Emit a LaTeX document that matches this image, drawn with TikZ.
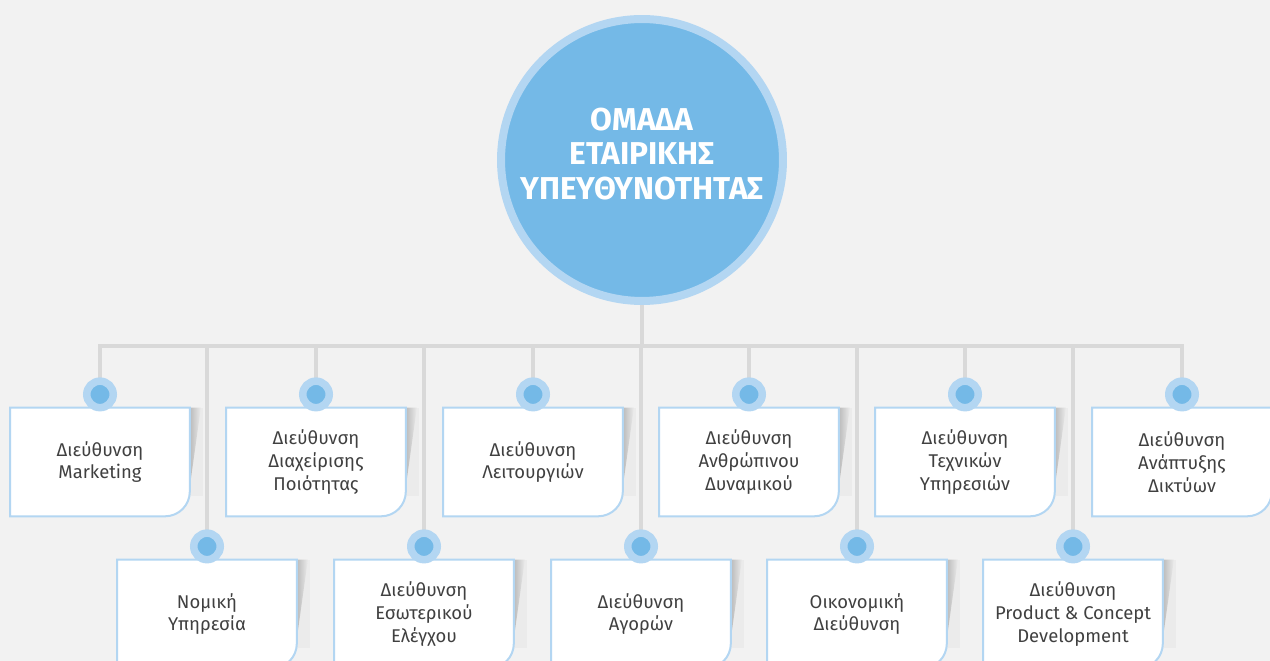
\documentclass[tikz,border=0pt]{standalone}
\usepackage{fontspec}
\setmainfont{Fira Sans}
\usepackage{tikz}
\usetikzlibrary{calc,positioning,backgrounds}
\usepackage{xcolor}
\definecolor{teamblue}{HTML}{74B9E7}
\definecolor{ringblue}{HTML}{B3D6F2}
\definecolor{linkgray}{HTML}{D9D9D9}
\definecolor{pagegray}{HTML}{F2F2F2}
\definecolor{labelgray}{HTML}{404040}
\tikzset{
  team/.style={circle, minimum size=5.64cm, inner sep=0pt, line width=0.16cm, fill=teamblue, draw=ringblue},
  teamtitle/.style={inner sep=0pt, text=white, align=center, font=\bfseries\fontsize{18}{19.5}\selectfont},
  unitbox/.style={rectangle, minimum width=3.58cm, minimum height=2.16cm, inner sep=0pt, align=center, text=labelgray, font=\fontsize{10.5}{13}\selectfont},
  unitdot/.style={circle, minimum size=0.53cm, inner sep=0pt, outer sep=0pt, line width=0.15cm, fill=teamblue, draw=ringblue},
  linkline/.style={draw=linkgray, line width=0.08cm},
  unitline/.style={draw=ringblue, line width=0.04cm, fill=white},
  curlshade/.style={left color=black!32, right color=black!8}
}
\begin{document}
\begin{tikzpicture}[x=0.02cm, y=-0.02cm]
    \useasboundingbox (0,0) rectangle (1270,661);
    \node[team] (team) at (642,160) {};
    \node[teamtitle] (title) at (642,154) {ΟΜΑΔΑ\\ΕΤΑΙΡΙΚΗΣ\\ΥΠΕΥΘΥΝΟΤΗΤΑΣ};
    \coordinate (bar) at (642,346);
    \node[unitbox] (b1) at (100,462) {Διεύθυνση\\Marketing};
    \node[unitbox] (b2) at (316,462) {Διεύθυνση\\Διαχείρισης\\Ποιότητας};
    \node[unitbox] (b3) at (533,462) {Διεύθυνση\\Λειτουργιών};
    \node[unitbox] (b4) at (749,462) {Διεύθυνση\\Ανθρώπινου\\Δυναμικού};
    \node[unitbox] (b5) at (965,462) {Διεύθυνση\\Τεχνικών\\Υπηρεσιών};
    \node[unitbox] (b6) at (1182,462) {Διεύθυνση\\Ανάπτυξης\\Δικτύων};
    \node[unitbox] (b7) at (207,614) {Νομική\\Υπηρεσία};
    \node[unitbox] (b8) at (424,614) {Διεύθυνση\\Εσωτερικού\\Ελέγχου};
    \node[unitbox] (b9) at (641,614) {Διεύθυνση\\Αγορών};
    \node[unitbox] (b10) at (857,614) {Οικονομική\\Διεύθυνση};
    \node[unitbox] (b11) at (1073,614) {Διεύθυνση\\Product \& Concept\\Development};
    \node[unitdot, above=0pt of b1] (d1) {};
    \node[unitdot, above=0pt of b2] (d2) {};
    \node[unitdot, above=0pt of b3] (d3) {};
    \node[unitdot, above=0pt of b4] (d4) {};
    \node[unitdot, above=0pt of b5] (d5) {};
    \node[unitdot, above=0pt of b6] (d6) {};
    \node[unitdot, above=0pt of b7] (d7) {};
    \node[unitdot, above=0pt of b8] (d8) {};
    \node[unitdot, above=0pt of b9] (d9) {};
    \node[unitdot, above=0pt of b10] (d10) {};
    \node[unitdot, above=0pt of b11] (d11) {};
    \begin{scope}[on background layer]
        \fill[pagegray] (0,0) rectangle (1270,661);
        \draw[linkline] (team) -- (bar);
        \draw[linkline] (d1) |- (bar) -| (d6);
        \foreach \n in {2,3,4,5,7,8,9,10,11}
            \draw[linkline] (bar -| d\n) -- (d\n);
        \foreach \n in {1,...,11} {
            \fill[black!8] ($(b\n.north east)+(-3,0)$) rectangle ($(b\n.north east)+(13,88)$);
            \shade[curlshade] ($(b\n.north east)+(-3,0)$) -- ($(b\n.north east)+(11,0)$) -- ($(b\n.north east)+(-1,86)$) -- cycle;
            \draw[unitline] (b\n.north west) -- (b\n.north east) -- ($(b\n.south east)+(0,-25)$)
                .. controls ($(b\n.south east)+(0,-11)$) and ($(b\n.south east)+(-11,0)$) .. ($(b\n.south east)+(-25,0)$)
                -- (b\n.south west) -- cycle;
        }
    \end{scope}
\end{tikzpicture}
\end{document}
